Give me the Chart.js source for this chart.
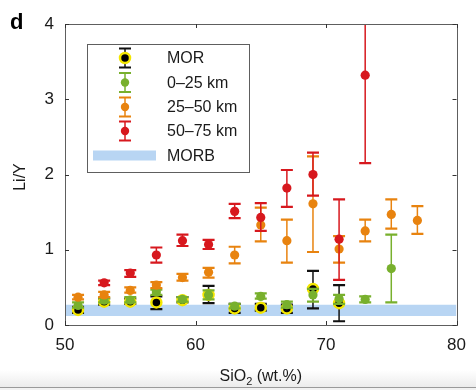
<!DOCTYPE html>
<html>
<head>
<meta charset="utf-8">
<script src="https://cdn.jsdelivr.net/npm/chart.js@4"></script>
<style>
  html, body { margin: 0; padding: 0; }
  body {
    width: 476px; height: 390px; overflow: hidden;
    background: linear-gradient(to bottom, #ffffff 0px, #ffffff 370px, #ececec 387px, #9a9a9a 387px, #9a9a9a 388px, #f2f2f2 388px);
  }
  #wrap { position: absolute; left: 0; top: 0; width: 476px; height: 390px; }
</style>
</head>
<body>
<div id="wrap"><canvas id="c" width="476" height="390"></canvas></div>
<script>
// ---- data ----
const morX   = [51, 53, 55, 57, 59, 61, 63, 65, 67, 69, 71];
const morY   = [0.20, 0.31, 0.31, 0.30, 0.33, 0.40, 0.22, 0.23, 0.22, 0.48, 0.29];
const morLo  = [0.16, 0.27, 0.28, 0.21, 0.30, 0.29, 0.16, 0.19, 0.16, 0.22, 0.05];
const morHi  = [0.24, 0.35, 0.35, 0.38, 0.37, 0.52, 0.28, 0.28, 0.27, 0.72, 0.53];

const greenX  = [51, 53, 55, 57, 59, 61, 63, 65, 67, 69, 71, 73, 75];
const greenY  = [0.26, 0.33, 0.33, 0.44, 0.34, 0.40, 0.25, 0.38, 0.27, 0.40, 0.35, 0.34, 0.75];
const greenLo = [0.23, 0.30, 0.30, 0.40, 0.31, 0.34, 0.22, 0.35, 0.23, 0.31, 0.28, 0.30, 0.30];
const greenHi = [0.30, 0.36, 0.37, 0.47, 0.37, 0.46, 0.28, 0.42, 0.31, 0.48, 0.40, 0.38, 1.20];

const orangeX  = [51, 53, 55, 57, 59, 61, 63, 65, 67, 69, 71, 73, 75, 77];
const orangeY  = [0.37, 0.40, 0.46, 0.53, 0.63, 0.70, 0.93, 1.33, 1.12, 1.61, 1.01, 1.25, 1.47, 1.39];
const orangeLo = [0.34, 0.37, 0.43, 0.49, 0.59, 0.63, 0.82, 1.11, 0.83, 0.97, 0.83, 1.11, 1.28, 1.21];
const orangeHi = [0.40, 0.44, 0.50, 0.57, 0.68, 0.76, 1.04, 1.56, 1.40, 2.24, 1.18, 1.40, 1.67, 1.58];

const redX  = [53, 55, 57, 59, 61, 63, 65, 67, 69, 71, 73];
const redY  = [0.56, 0.69, 0.93, 1.12, 1.07, 1.51, 1.43, 1.82, 2.00, 1.14, 3.32];
const redLo = [0.53, 0.64, 0.83, 1.05, 1.01, 1.42, 1.25, 1.57, 1.72, 0.60, 2.15];
const redHi = [0.59, 0.73, 1.03, 1.20, 1.13, 1.61, 1.62, 2.06, 2.29, 1.67, 4.49];

const morbRange = [0.12, 0.27];
const xRange = [50, 80];
const yRange = [0, 4];
const xTicks = [50, 60, 70, 80];
const yTicks = [0, 1, 2, 3, 4];
const seriesNames = ['MOR', '0\u201325 km', '25\u201350 km', '50\u201375 km', 'MORB'];

// ---- styles ----
const C_RED = '#d7181e', C_ORANGE = '#e8830f', C_GREEN = '#78b02d', C_YEL = '#f3e600', C_BAND = '#b8d5f3';
const FONT = '"Liberation Sans", Arial, Helvetica, sans-serif';

function pts(xa, ya) { return xa.map((x, i) => ({ x: x, y: ya[i] })); }

const datasets = [
  { label: 'MORB top', type: 'line', data: [{x: xRange[0], y: morbRange[1]}, {x: xRange[1], y: morbRange[1]}],
    borderWidth: 0, pointRadius: 0, backgroundColor: C_BAND, fill: '+1', order: 10 },
  { label: 'MORB bottom', type: 'line', data: [{x: xRange[0], y: morbRange[0]}, {x: xRange[1], y: morbRange[0]}],
    borderWidth: 0, pointRadius: 0, fill: false, order: 11 },
  { label: seriesNames[0], data: pts(morX, morY), errLo: morLo, errHi: morHi, errColor: '#111111',
    backgroundColor: '#000000', borderColor: C_YEL, borderWidth: 2.5, pointRadius: 5, order: 4 },
  { label: seriesNames[1], data: pts(greenX, greenY), errLo: greenLo, errHi: greenHi, errColor: C_GREEN,
    backgroundColor: C_GREEN, borderColor: C_GREEN, borderWidth: 0, pointRadius: 4.6, order: 3 },
  { label: seriesNames[2], data: pts(orangeX, orangeY), errLo: orangeLo, errHi: orangeHi, errColor: C_ORANGE,
    backgroundColor: C_ORANGE, borderColor: C_ORANGE, borderWidth: 0, pointRadius: 4.6, order: 2 },
  { label: seriesNames[3], data: pts(redX, redY), errLo: redLo, errHi: redHi, errColor: C_RED,
    backgroundColor: C_RED, borderColor: C_RED, borderWidth: 0, pointRadius: 4.6, order: 1 }
];

function drawErrBar(ctx, x, yTop, yBot, color, capW) {
  ctx.strokeStyle = color;
  ctx.lineWidth = 1.5;
  ctx.beginPath(); ctx.moveTo(x, yTop); ctx.lineTo(x, yBot); ctx.stroke();
  ctx.lineWidth = 2.2;
  ctx.beginPath();
  ctx.moveTo(x - capW / 2, yTop); ctx.lineTo(x + capW / 2, yTop);
  ctx.moveTo(x - capW / 2, yBot); ctx.lineTo(x + capW / 2, yBot);
  ctx.stroke();
}

const errorBars = {
  id: 'errorBars',
  beforeDatasetDraw(chart, args) {
    const ds = chart.data.datasets[args.index];
    if (!ds.errLo) return;
    const ctx = chart.ctx, xs = chart.scales.x, ys = chart.scales.y, a = chart.chartArea;
    ctx.save();
    ctx.beginPath(); ctx.rect(a.left, a.top, a.right - a.left, a.bottom - a.top); ctx.clip();
    ds.data.forEach((p, i) => {
      const px = xs.getPixelForValue(p.x);
      drawErrBar(ctx, px, ys.getPixelForValue(ds.errHi[i]), ys.getPixelForValue(ds.errLo[i]), ds.errColor, 12);
    });
    ctx.restore();
  }
};

const frameAndText = {
  id: 'frameAndText',
  afterDraw(chart) {
    const ctx = chart.ctx, a = chart.chartArea, xs = chart.scales.x, ys = chart.scales.y;
    ctx.save();
    // frame
    ctx.strokeStyle = '#5e5e5e'; ctx.lineWidth = 1;
    ctx.strokeRect(Math.round(a.left) + 0.5, Math.round(a.top) + 0.5, Math.round(a.right - a.left), Math.round(a.bottom - a.top));
    // inward ticks
    ctx.strokeStyle = '#333333';
    ctx.beginPath();
    xTicks.forEach(v => {
      const px = Math.round(xs.getPixelForValue(v)) + 0.5;
      ctx.moveTo(px, a.bottom); ctx.lineTo(px, a.bottom - 4);
      ctx.moveTo(px, a.top); ctx.lineTo(px, a.top + 4);
    });
    yTicks.forEach(v => {
      const py = Math.round(ys.getPixelForValue(v)) + 0.5;
      ctx.moveTo(a.left, py); ctx.lineTo(a.left + 4, py);
      ctx.moveTo(a.right, py); ctx.lineTo(a.right - 4, py);
    });
    ctx.stroke();

    // panel letter
    ctx.fillStyle = '#000';
    ctx.font = 'bold 22px ' + FONT;
    ctx.textAlign = 'left'; ctx.textBaseline = 'alphabetic';
    ctx.fillText('d', 10, 29);

    // axis titles
    ctx.fillStyle = '#1a1a1a';
    ctx.font = '16px ' + FONT;
    const t1 = 'SiO', t2 = '2', t3 = ' (wt.%)';
    ctx.font = '16px ' + FONT; const w1 = ctx.measureText(t1).width;
    ctx.font = '11px ' + FONT; const w2 = ctx.measureText(t2).width;
    ctx.font = '16px ' + FONT; const w3 = ctx.measureText(t3).width;
    const cx = (a.left + a.right) / 2;
    let sx = cx - (w1 + w2 + w3) / 2;
    const by = 381;
    ctx.fillText(t1, sx, by);
    ctx.font = '11px ' + FONT; ctx.fillText(t2, sx + w1, by + 4);
    ctx.font = '16px ' + FONT; ctx.fillText(t3, sx + w1 + w2, by);

    ctx.save();
    ctx.translate(25, 177); ctx.rotate(-Math.PI / 2);
    ctx.textAlign = 'center'; ctx.textBaseline = 'alphabetic';
    ctx.fillText('Li/Y', 0, 0);
    ctx.restore();

    // legend
    const L = { x: 87, y: 44, w: 162, h: 128 };
    ctx.fillStyle = '#ffffff';
    ctx.fillRect(L.x, L.y, L.w, L.h);
    ctx.strokeStyle = '#5e5e5e'; ctx.lineWidth = 1;
    ctx.strokeRect(L.x + 0.5, L.y + 0.5, L.w, L.h);
    const rows = [58, 82.5, 107, 131, 155.5];
    const symX = 125, txtX = 167;
    const cols = [['#111111', '#000000', C_YEL], [C_GREEN, C_GREEN, null], [C_ORANGE, C_ORANGE, null], [C_RED, C_RED, null]];
    for (let i = 0; i < 4; i++) {
      const cy = rows[i];
      drawErrBar(ctx, symX, cy - 9.5, cy + 9.5, cols[i][0], 12);
      ctx.beginPath();
      if (cols[i][2]) {
        ctx.arc(symX, cy, 5, 0, Math.PI * 2);
        ctx.fillStyle = cols[i][1]; ctx.fill();
        ctx.lineWidth = 2.5; ctx.strokeStyle = cols[i][2]; ctx.stroke();
      } else {
        ctx.arc(symX, cy, 4.2, 0, Math.PI * 2);
        ctx.fillStyle = cols[i][1]; ctx.fill();
      }
    }
    ctx.fillStyle = C_BAND;
    ctx.fillRect(93, rows[4] - 5, 63, 10);
    ctx.fillStyle = '#1a1a1a';
    ctx.font = '16px ' + FONT; ctx.textAlign = 'left'; ctx.textBaseline = 'middle';
    seriesNames.forEach((n, i) => ctx.fillText(n, txtX, rows[i] + 1));
    ctx.restore();
  }
};

new Chart(document.getElementById('c'), {
  type: 'scatter',
  data: { datasets: datasets },
  options: {
    responsive: false,
    animation: false,
    events: [],
    layout: { padding: { left: 0, right: 17, top: 24, bottom: 0 } },
    plugins: { legend: { display: false }, tooltip: { enabled: false } },
    scales: {
      x: {
        type: 'linear', min: xRange[0], max: xRange[1],
        afterFit(s) { s.height = 65; },
        afterBuildTicks(s) { s.ticks = xTicks.map(v => ({ value: v })); },
        grid: { display: false, drawTicks: false },
        border: { display: false },
        ticks: { color: '#1a1a1a', font: { family: FONT, size: 17 }, padding: 10, maxRotation: 0 }
      },
      y: {
        type: 'linear', min: yRange[0], max: yRange[1],
        afterFit(s) { s.width = 65; },
        afterBuildTicks(s) { s.ticks = yTicks.map(v => ({ value: v })); },
        grid: { display: false, drawTicks: false },
        border: { display: false },
        ticks: { color: '#1a1a1a', font: { family: FONT, size: 17 }, padding: 11 }
      }
    }
  },
  plugins: [errorBars, frameAndText]
});
</script>
</body>
</html>
